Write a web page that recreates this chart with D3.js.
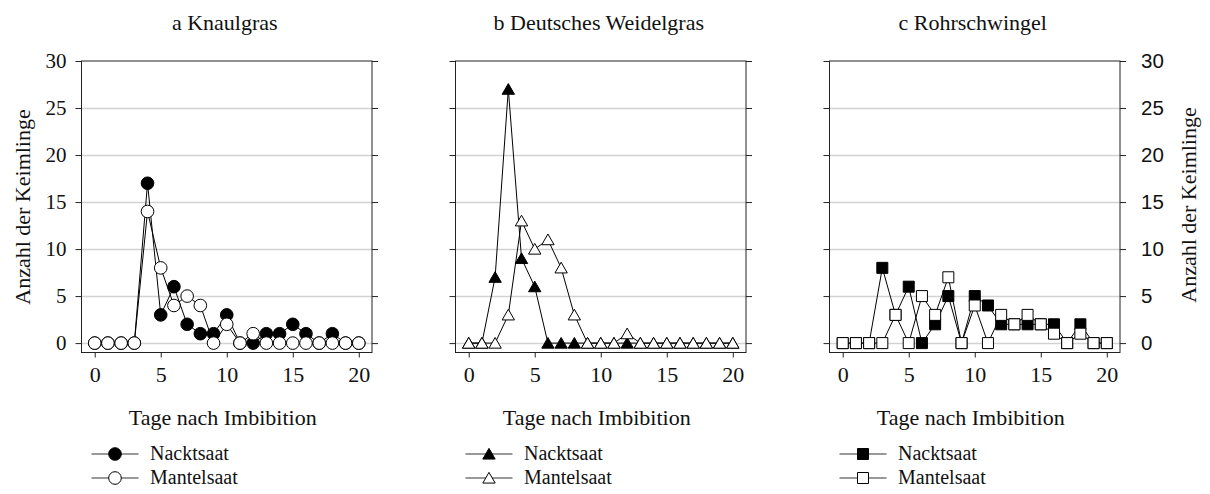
<!DOCTYPE html>
<html>
<head>
<meta charset="utf-8">
<script src="https://cdn.jsdelivr.net/npm/d3@7/dist/d3.min.js"></script>
<style>
  body { margin: 0; background: #fff; }
  svg { display: block; }
</style>
</head>
<body>
<div id="chart"></div>
<script>
// days after imbibition
const days = [0, 1, 2, 3, 4, 5, 6, 7, 8, 9, 10, 11, 12, 13, 14, 15, 16, 17, 18, 19, 20];
const xTicks = [0, 5, 10, 15, 20];
const yTicks = [0, 5, 10, 15, 20, 25, 30];

const panelTitles = ['a Knaulgras', 'b Deutsches Weidelgras', 'c Rohrschwingel'];
const seriesNames = ['Nacktsaat', 'Mantelsaat'];

// seedling counts
const knaulNackt   = [0, 0, 0, 0, 17, 3, 6, 2, 1, 1, 3, 0, 0, 1, 1, 2, 1, 0, 1, 0, 0];
const knaulMantel  = [0, 0, 0, 0, 14, 8, 4, 5, 4, 0, 2, 0, 1, 0, 0, 0, 0, 0, 0, 0, 0];
const weidelNackt  = [0, 0, 7, 27, 9, 6, 0, 0, 0, 0, 0, 0, 0, 0, 0, 0, 0, 0, 0, 0, 0];
const weidelMantel = [0, 0, 0, 3, 13, 10, 11, 8, 3, 0, 0, 0, 1, 0, 0, 0, 0, 0, 0, 0, 0];
const rohrNackt    = [0, 0, 0, 8, 3, 6, 0, 2, 5, 0, 5, 4, 2, 2, 2, 2, 2, 0, 2, 0, 0];
const rohrMantel   = [0, 0, 0, 0, 3, 0, 5, 3, 7, 0, 4, 0, 3, 2, 3, 2, 1, 0, 1, 0, 0];

const panels = [
    { title: panelTitles[0], nackt: knaulNackt, mantel: knaulMantel, shape: d3.symbolCircle, size: 125 },
    { title: panelTitles[1], nackt: weidelNackt, mantel: weidelMantel, shape: d3.symbolTriangle, size: 66 },
    { title: panelTitles[2], nackt: rohrNackt, mantel: rohrMantel, shape: d3.symbolSquare, size: 121 }
];

const width = 1210;
const height = 494;
const serif = "'Liberation Serif'";
const sans = "'Liberation Sans'";

// helper: font styling as inline style
const font = (sel, family, size) => sel
    .style('font-family', family)
    .style('font-size', size + 'px')
    .style('fill', '#111');

const svg = d3.select('#chart')
    .append('svg')
    .attr('width', width)
    .attr('height', height);

const plotW = 290.5;
const plotTop = 61;
const plotBottom = 352.5;
const lefts = [81.5, 455.5, 829.5];

const y = d3.scaleLinear().domain([-1, 30]).range([plotBottom, plotTop]);

panels.forEach((p, i) => {
    const left = lefts[i];
    const x = d3.scaleLinear().domain([-1, 21]).range([left, left + plotW]);
    const g = svg.append('g');

    // gridlines
    g.selectAll('.grid')
        .data(yTicks.filter(t => t < 30))
        .join('line')
        .attr('x1', left).attr('x2', left + plotW)
        .attr('y1', d => Math.round(y(d)) + 0.5).attr('y2', d => Math.round(y(d)) + 0.5)
        .attr('stroke', '#d2d2d2')
        .attr('stroke-width', 1.5);

    // left and right y axes (ticks outward, labels only on outer sides)
    const leftAxis = d3.axisLeft(y).tickValues(yTicks).tickSize(6).tickSizeOuter(0)
        .tickFormat(i === 0 ? d3.format('d') : () => '');
    const rightAxis = d3.axisRight(y).tickValues(yTicks).tickSize(6).tickSizeOuter(0)
        .tickFormat(i === 2 ? d3.format('d') : () => '');

    const la = g.append('g').attr('transform', `translate(${left},0)`).call(leftAxis);
    la.select('.domain').remove();
    font(la.selectAll('text'), serif, 21).attr('x', -15);

    const ra = g.append('g').attr('transform', `translate(${left + plotW},0)`).call(rightAxis);
    ra.select('.domain').remove();
    font(ra.selectAll('text'), sans, 20.5).attr('x', 21);

    const xa = g.append('g').attr('transform', `translate(0,${plotBottom})`)
        .call(d3.axisBottom(x).tickValues(xTicks).tickSize(5).tickSizeOuter(0));
    xa.select('.domain').remove();
    font(xa.selectAll('text'), serif, 22).attr('y', 14);

    [la, ra, xa].forEach(a => a.selectAll('line').attr('stroke', '#222'));

    // frame
    g.append('rect')
        .attr('x', left).attr('y', plotTop)
        .attr('width', plotW).attr('height', plotBottom - plotTop)
        .attr('fill', 'none').attr('stroke', '#222').attr('stroke-width', 1);

    // titles
    font(g.append('text'), serif, 22)
        .attr('x', left + plotW / 2 - 2).attr('y', 30)
        .attr('text-anchor', 'middle')
        .text(p.title);

    font(g.append('text'), serif, 22)
        .attr('x', left + plotW / 2 - 4).attr('y', 425)
        .attr('text-anchor', 'middle')
        .text('Tage nach Imbibition');

    // series: Nacktsaat (filled) first, Mantelsaat (open) on top
    const line = d3.line().x((d, j) => x(days[j])).y(d => y(d));
    const symbol = d3.symbol().type(p.shape).size(p.size);
    const triOffset = p.shape === d3.symbolTriangle ? 1.5 : 0;

    [[p.nackt, '#000'], [p.mantel, '#fff']].forEach(([vals, fill]) => {
        g.append('path')
            .attr('d', line(vals))
            .attr('fill', 'none')
            .attr('stroke', '#000')
            .attr('stroke-width', 1);
        g.selectAll(null)
            .data(vals)
            .join('path')
            .attr('d', symbol)
            .attr('transform', (d, j) => `translate(${x(days[j])},${y(d) + triOffset})`)
            .attr('fill', fill)
            .attr('stroke', '#000')
            .attr('stroke-width', 1);
    });

    // legend
    [[seriesNames[0], '#000', 454], [seriesNames[1], '#fff', 478]].forEach(([name, fill, ly]) => {
        g.append('line')
            .attr('x1', left + 10).attr('x2', left + 57)
            .attr('y1', ly).attr('y2', ly)
            .attr('stroke', '#333').attr('stroke-width', 1);
        g.append('path')
            .attr('d', symbol)
            .attr('transform', `translate(${left + 33.5},${ly + triOffset})`)
            .attr('fill', fill).attr('stroke', '#000');
        font(g.append('text'), serif, 20)
            .attr('x', left + 68.5).attr('y', ly + 6)
            .text(name);
    });
});

// y axis titles
font(svg.append('text'), serif, 22)
    .attr('transform', `translate(30,${207}) rotate(-90)`)
    .attr('text-anchor', 'middle')
    .text('Anzahl der Keimlinge');

font(svg.append('text'), serif, 22)
    .attr('transform', `translate(1196,${205}) rotate(-90)`)
    .attr('text-anchor', 'middle')
    .text('Anzahl der Keimlinge');
</script>
</body>
</html>
